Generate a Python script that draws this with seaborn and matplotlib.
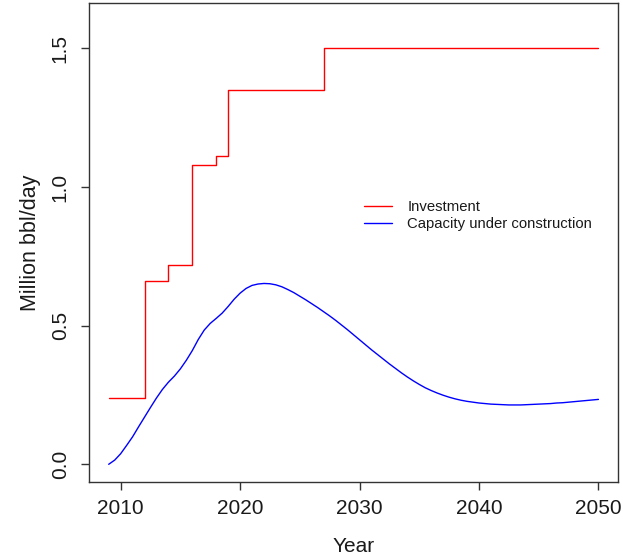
import matplotlib
matplotlib.use("Agg")
import matplotlib.pyplot as plt
import seaborn as sns
import pandas as pd

# Investment (step function)
inv_years = [2009, 2012, 2014, 2016, 2018, 2019, 2027, 2050]
inv_values = [0.24, 0.66, 0.72, 1.08, 1.11, 1.35, 1.50, 1.50]

# Capacity under construction (half-year readings)
cap_years = [2009.0, 2009.5, 2010.0, 2010.5, 2011.0, 2011.5, 2012.0, 2012.5, 2013.0, 2013.5,
             2014.0, 2014.5, 2015.0, 2015.5, 2016.0, 2016.5, 2017.0, 2017.5, 2018.0, 2018.5,
             2019.0, 2019.5, 2020.0, 2020.5, 2021.0, 2021.5, 2022.0, 2022.5, 2023.0, 2023.5,
             2024.0, 2024.5, 2025.0, 2025.5, 2026.0, 2026.5, 2027.0, 2027.5, 2028.0, 2028.5,
             2029.0, 2029.5, 2030.0, 2030.5, 2031.0, 2031.5, 2032.0, 2032.5, 2033.0, 2033.5,
             2034.0, 2034.5, 2035.0, 2035.5, 2036.0, 2036.5, 2037.0, 2037.5, 2038.0, 2038.5,
             2039.0, 2039.5, 2040.0, 2040.5, 2041.0, 2041.5, 2042.0, 2042.5, 2043.0, 2043.5,
             2044.0, 2044.5, 2045.0, 2045.5, 2046.0, 2046.5, 2047.0, 2047.5, 2048.0, 2048.5,
             2049.0, 2049.5, 2050.0]
cap_values = [0.000, 0.015, 0.038, 0.068, 0.099, 0.135, 0.170, 0.205, 0.239, 0.270,
              0.296, 0.318, 0.344, 0.375, 0.410, 0.450, 0.484, 0.508, 0.526, 0.545,
              0.569, 0.595, 0.617, 0.634, 0.645, 0.650, 0.652, 0.651, 0.647, 0.640,
              0.630, 0.619, 0.606, 0.593, 0.579, 0.565, 0.550, 0.535, 0.519, 0.502,
              0.485, 0.467, 0.449, 0.431, 0.413, 0.396, 0.379, 0.362, 0.346, 0.330,
              0.315, 0.301, 0.288, 0.276, 0.266, 0.257, 0.249, 0.242, 0.236, 0.231,
              0.227, 0.224, 0.221, 0.219, 0.217, 0.216, 0.215, 0.214, 0.214, 0.214,
              0.215, 0.216, 0.217, 0.218, 0.219, 0.221, 0.222, 0.224, 0.226, 0.228,
              0.230, 0.232, 0.234]

x_ticks = [2010, 2020, 2030, 2040, 2050]
y_ticks = [0.0, 0.5, 1.0, 1.5]

sns.set_style("white")
plt.rcParams['font.family'] = ['Liberation Sans', 'DejaVu Sans']

fig = plt.figure(figsize=(6.23, 5.56), dpi=100)
ax = fig.add_axes([0.143, 0.133, 0.849, 0.862])

inv_df = pd.DataFrame({"Year": inv_years, "Value": inv_values})
cap_df = pd.DataFrame({"Year": cap_years, "Value": cap_values})

sns.lineplot(data=inv_df, x="Year", y="Value", ax=ax, color="red",
             drawstyle="steps-post", linewidth=1.0, label="Investment")
sns.lineplot(data=cap_df, x="Year", y="Value", ax=ax, color="blue",
             linewidth=1.0, label="Capacity under construction")

xpad = (2050 - 2009) * 0.04
ax.set_xlim(2009 - xpad, 2050 + xpad)
ax.set_ylim(-0.064, 1.664)
ax.set_xticks(x_ticks)
ax.set_xticklabels([str(t) for t in x_ticks])
ax.set_yticks(y_ticks)
ax.set_yticklabels([f"{t:.1f}" for t in y_ticks], rotation=90, va="center")

for s in ax.spines.values():
    s.set_color("#333333")
    s.set_linewidth(1.0)
    s.set_visible(True)

ax.tick_params(axis="both", direction="out", length=6, width=1.0,
               color="#333333", labelsize=15, labelcolor="#1a1a1a",
               bottom=True, left=True)
ax.tick_params(axis="x", pad=6)
ax.tick_params(axis="y", pad=8)

ax.set_xlabel("Year", fontsize=15, color="#1a1a1a", labelpad=14)
ax.set_ylabel("Million bbl/day", fontsize=15.5, color="#1a1a1a", labelpad=7)

leg = ax.legend(loc="center left", bbox_to_anchor=(0.52, 0.556), frameon=False,
                fontsize=10.7, handlelength=1.9, handletextpad=1.0,
                labelspacing=0.2, borderpad=0, borderaxespad=0)
for t in leg.get_texts():
    t.set_color("#1a1a1a")

fig.savefig("out.png", dpi=100)
